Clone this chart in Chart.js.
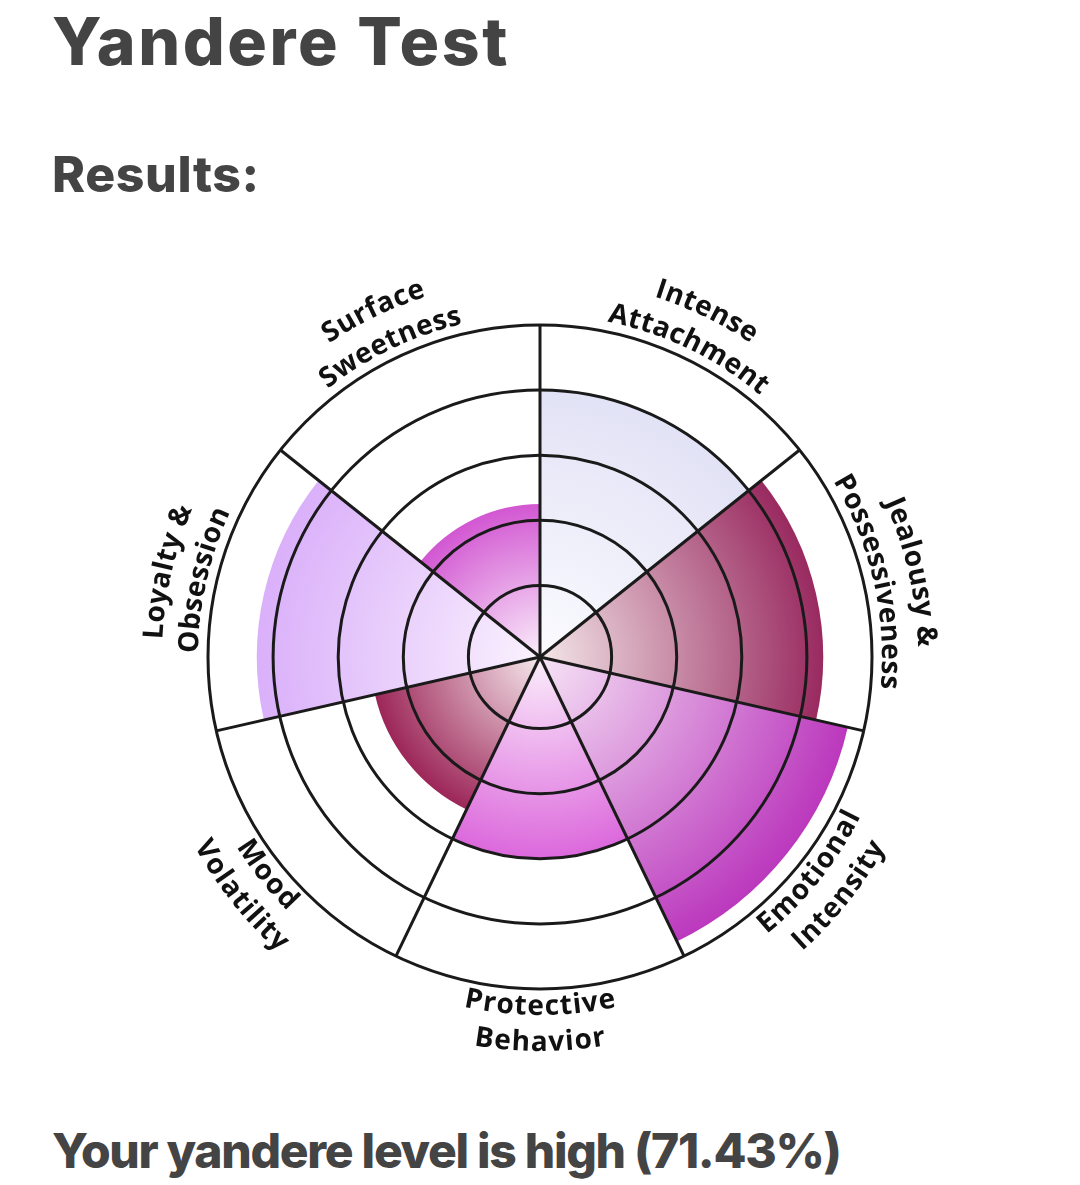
<!DOCTYPE html>
<html>
<head>
<meta charset="utf-8">
<script src="https://cdn.jsdelivr.net/npm/chart.js@4.4.1/dist/chart.umd.min.js"></script>
<style>
  html, body { margin: 0; padding: 0; background: #fff; }
  body { width: 1080px; height: 1185px; position: relative; overflow: hidden; font-family: Inter, "Open Sans", sans-serif; color: #444; }
  .txt { position: absolute; left: 52px; margin: 0; font-weight: 800; line-height: 1; white-space: nowrap; }
  #title { top: 8px; font-size: 66px; letter-spacing: 2.6px; }
  #sub { top: 149px; font-size: 50px; letter-spacing: 0.6px; }
  #result { top: 1127px; font-size: 48px; letter-spacing: -1.3px; }
  #wrap { position: absolute; left: 0; top: 230px; width: 1080px; height: 860px; }
</style>
</head>
<body>
<h1 class="txt" id="title">Yandere Test</h1>
<h2 class="txt" id="sub">Results:</h2>
<div id="wrap"><canvas id="yandereChart"></canvas></div>
<p class="txt" id="result">Your yandere level is high (71.43%)</p>

<script>
// categorias (dos lineas cada una, como en la imagen)
const categories = [
  ['Intense', 'Attachment'],
  ['Jealousy &', 'Possessiveness'],
  ['Emotional', 'Intensity'],
  ['Protective', 'Behavior'],
  ['Mood', 'Volatility'],
  ['Loyalty &', 'Obsession'],
  ['Surface', 'Sweetness']
];
// puntajes en %
const scores = [80, 85, 95, 60, 50, 85, 45];
// anillos de la rejilla
const ringValues = [20, 40, 60, 80, 100];
// colores: borde exterior y centro del degradado
const edgeColors = ['#e2e2f6', '#992a60', '#bb38bd', '#dc68dc', '#9c2658', '#dab0fa', '#d257d2'];
const innerColors = ['#fbfbff', '#f3e6e8', '#f6e4f6', '#fbeefb', '#f6e8ec', '#faf2fe', '#fbeefb'];

// degradado radial desde el centro hasta el borde de cada segmento
function segmentFill(context) {
  const chart = context.chart;
  const scale = chart.scales.r;
  const i = context.dataIndex;
  if (!scale || scale.xCenter === undefined || context.type !== 'data') return edgeColors[i];
  const r = scale.getDistanceFromCenterForValue(scores[i]);
  const g = chart.ctx.createRadialGradient(scale.xCenter, scale.yCenter, 0, scale.xCenter, scale.yCenter, Math.max(r, 1));
  g.addColorStop(0, innerColors[i]);
  g.addColorStop(1, edgeColors[i]);
  return g;
}

// texto curvo alrededor del circulo
function drawArcText(ctx, text, cx, cy, r, mid, flip) {
  const spacing = 0.8;
  let total = 0;
  for (const ch of text) total += ctx.measureText(ch).width + spacing;
  total -= spacing;
  let a = flip ? mid + total / 2 / r : mid - total / 2 / r;
  for (const ch of text) {
    const w = ctx.measureText(ch).width;
    const ac = flip ? a - w / 2 / r : a + w / 2 / r;
    ctx.save();
    ctx.translate(cx + r * Math.sin(ac), cy - r * Math.cos(ac));
    ctx.rotate(flip ? ac + Math.PI : ac);
    ctx.fillText(ch, 0, 0);
    ctx.restore();
    a = flip ? a - (w + spacing) / r : a + (w + spacing) / r;
  }
}

const curvedLabels = {
  id: 'curvedLabels',
  afterDraw(chart) {
    const scale = chart.scales.r;
    const ctx = chart.ctx;
    const n = chart.data.labels.length;
    const outer = 386, inner = 350;
    ctx.save();
    ctx.font = 'bold 28px "Open Sans", sans-serif';
    ctx.fillStyle = '#111';
    ctx.textAlign = 'center';
    ctx.textBaseline = 'middle';
    chart.data.labels.forEach((lines, i) => {
      const mid = (i + 0.5) * 2 * Math.PI / n;
      const flip = Math.cos(mid) < 0;
      lines.forEach((line, j) => {
        const r = flip ? (j === 0 ? inner : outer) : (j === 0 ? outer : inner);
        drawArcText(ctx, line, scale.xCenter, scale.yCenter, r, mid, flip);
      });
    });
    ctx.restore();
  }
};

const ctx = document.getElementById('yandereChart').getContext('2d');
const yandereChart = new Chart(ctx, {
  type: 'polarArea',
  data: {
    labels: categories,
    datasets: [{
      data: scores,
      backgroundColor: segmentFill,
      borderWidth: 0
    }]
  },
  options: {
    responsive: true,
    maintainAspectRatio: false,
    animation: false,
    layout: { padding: { left: 208, right: 208, top: 95, bottom: 101 } },
    plugins: {
      legend: { display: false },
      tooltip: { enabled: false }
    },
    scales: {
      r: {
        min: -2,
        max: 100,
        startAngle: 0,
        afterBuildTicks: (scale) => { scale.ticks = ringValues.map(v => ({ value: v })); },
        ticks: { display: false },
        grid: { color: '#1a1a1a', lineWidth: 3, z: 1 },
        angleLines: { display: true, color: '#1a1a1a', lineWidth: 3 },
        pointLabels: { display: false }
      }
    }
  },
  plugins: [curvedLabels]
});
</script>
</body>
</html>
